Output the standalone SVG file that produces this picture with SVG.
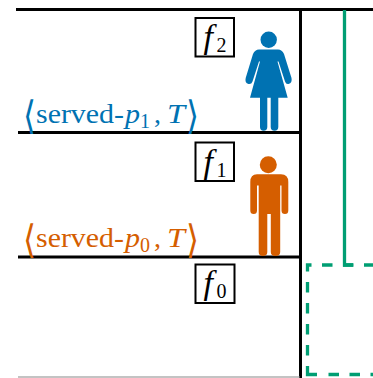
<svg xmlns="http://www.w3.org/2000/svg" width="373" height="378" viewBox="0 0 373 378">
<style>
.floor{stroke:#000;stroke-width:3;fill:none}
.box{fill:#fff;stroke:#000;stroke-width:2}
text{font-family:"Liberation Serif","Times New Roman",serif}
.f{font-size:34px;font-style:italic;fill:#000}
.sub{font-size:20px;fill:#000}
.lab{font-size:28px}
.it{font-style:italic}
.s{font-size:20px}
.br{font-family:"DejaVu Sans",sans-serif;font-size:39px}
.blue{fill:#0072b2}
.orange{fill:#d55e00}
.green{fill:none;stroke:#009e73;stroke-width:3.300}
</style>
<rect width="373" height="378" fill="#fff"/>
<g id="connectors">
<path class="floor" d="M16 9.500H373M18 132.500H300M18 257H300M300.500 8V378"/>
<path d="M18 377H300" stroke="#888" stroke-width="1.200" fill="none"/>
<path class="green" d="M344.500 10V265H353"/>
<path class="green" d="M373 265H307.500V360" stroke-dasharray="10.500 10.500" stroke-dashoffset="1.500"/>
<path class="green" d="M307.500 366V374.500H373" stroke-dasharray="18 11.500 10.500 10.500 10.500 10.500 10.500 10.500"/>
</g>
<g id="f2">
<rect class="box" x="195.500" y="18" width="38.500" height="38.500"/>
<text class="f" x="203.500" y="48">f</text><text class="sub" x="216.500" y="52">2</text>
</g>
<g id="f1">
<rect class="box" x="195.500" y="142.500" width="38.500" height="38.500"/>
<text class="f" x="203.500" y="172.500">f</text><text class="sub" x="216.500" y="176.500">1</text>
</g>
<g id="f0">
<rect class="box" x="195.500" y="264.500" width="39" height="38.500"/>
<text class="f" x="203.500" y="294">f</text><text class="sub" x="216.500" y="298">0</text>
</g>
<g id="person-p1" class="blue">
<circle cx="268.700" cy="39.700" r="8.200"/>
<path d="M259 49.500H278Q282 49.500 284 54L291.500 78Q292.500 83 288.500 84Q286 84.500 285 81.500L278.500 61.500H277.500L287.700 97.700H250L260 61.500H259L252.500 81.500Q251.500 84.500 248.500 84Q244.500 83 245.700 78L253 54Q255 49.500 259 49.500Z"/>
<path d="M260 97H267.300V127Q267.300 130.700 263.600 130.700Q260 130.700 260 127ZM270.700 97H278.300V127Q278.300 130.700 274.500 130.700Q270.700 130.700 270.700 127Z"/>
</g>
<g id="person-p0" class="orange">
<circle cx="268.300" cy="164.700" r="8.500"/>
<path d="M257 174.300H281Q288.300 174.300 288.300 182V210.500Q288.300 214 285 214Q281.500 214 281.500 210.500V185.500H280.200V252Q280.200 256 275.500 256Q270.800 256 270.800 252V214H267.300V252Q267.300 256 263 256Q258.700 256 258.700 252V185.500H257V210.500Q257 214 253.700 214Q250.300 214 250.300 210.500V182Q250.300 174.300 257 174.300Z"/>
</g>
<g id="label-p1" class="blue lab">
<text class="br" x="23" y="129" textLength="13" lengthAdjust="spacingAndGlyphs">⟨</text>
<text x="36" y="123" textLength="88" lengthAdjust="spacingAndGlyphs">served-</text>
<text class="it" x="125" y="123" textLength="15" lengthAdjust="spacingAndGlyphs">p</text>
<text class="s" x="140" y="128">1</text>
<text x="154" y="123">,</text>
<text class="it" x="167" y="123" textLength="18" lengthAdjust="spacingAndGlyphs">T</text>
<text class="br" x="186" y="129" textLength="13" lengthAdjust="spacingAndGlyphs">⟩</text>
</g>
<g id="label-p0" class="orange lab">
<text class="br" x="23" y="253" textLength="13" lengthAdjust="spacingAndGlyphs">⟨</text>
<text x="36" y="247" textLength="88" lengthAdjust="spacingAndGlyphs">served-</text>
<text class="it" x="125" y="247" textLength="15" lengthAdjust="spacingAndGlyphs">p</text>
<text class="s" x="140" y="252">0</text>
<text x="154" y="247">,</text>
<text class="it" x="167" y="247" textLength="18" lengthAdjust="spacingAndGlyphs">T</text>
<text class="br" x="186" y="253" textLength="13" lengthAdjust="spacingAndGlyphs">⟩</text>
</g>
</svg>
